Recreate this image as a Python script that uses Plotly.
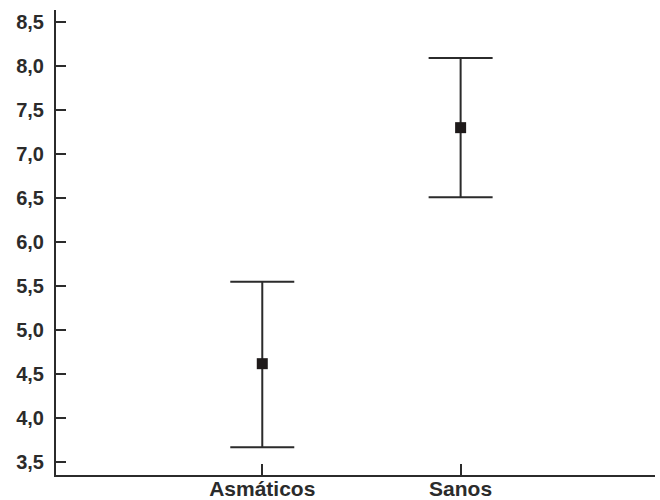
import plotly.graph_objects as go

categories = ["Asmáticos", "Sanos"]
means = [4.62, 7.30]
upper = [5.55, 8.09]
lower = [3.67, 6.51]
y_ticks = [3.5, 4.0, 4.5, 5.0, 5.5, 6.0, 6.5, 7.0, 7.5, 8.0, 8.5]

err_plus = [u - m for u, m in zip(upper, means)]
err_minus = [m - l for m, l in zip(means, lower)]

ink = "#2b2b2b"

fig = go.Figure(go.Scatter(
    x=categories, y=means, mode="markers",
    marker=dict(symbol="square", size=11, color="#1e1a1a"),
    error_y=dict(type="data", array=err_plus, arrayminus=err_minus,
                 symmetric=False, width=32, thickness=2, color=ink),
    showlegend=False,
))

fig.update_layout(
    width=660, height=500,
    margin=dict(l=56, r=5, t=10, b=25),
    paper_bgcolor="white", plot_bgcolor="white",
    separators=",.",
    font=dict(family="Liberation Sans, Arial, sans-serif", color=ink),
)
fig.update_xaxes(
    type="category", range=[-1.04, 1.98], automargin=False,
    showline=True, linecolor=ink, linewidth=2,
    ticks="inside", ticklen=11, tickwidth=2, tickcolor=ink,
    showgrid=False, zeroline=False, ticklabelstandoff=-6,
    tickfont=dict(size=21, family="Liberation Sans, Arial, sans-serif", color=ink, weight="bold"),
)
fig.update_yaxes(
    range=[3.356, 8.636], automargin=False,
    tickvals=y_ticks, tickformat=".1f",
    showline=True, linecolor=ink, linewidth=2,
    ticks="inside", ticklen=10, tickwidth=2, tickcolor=ink,
    showgrid=False, zeroline=False, ticklabelstandoff=6,
    tickfont=dict(size=20, family="Liberation Sans, Arial, sans-serif", color=ink, weight="bold"),
)

fig.write_html("out.html", config={"displayModeBar": False},
               post_script="document.body.style.margin='0';")
